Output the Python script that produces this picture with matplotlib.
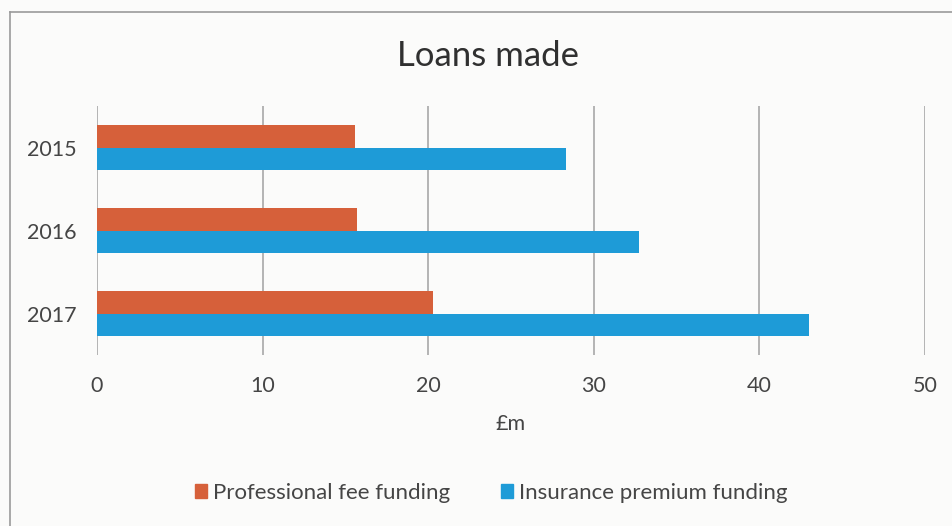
import matplotlib
matplotlib.use("Agg")
import matplotlib.pyplot as plt
from matplotlib.patches import Patch
from matplotlib.lines import Line2D
import numpy as np

years = ["2015", "2016", "2017"]
professional_fee = [15.6, 15.7, 20.3]
insurance_premium = [28.3, 32.7, 43.0]
x_ticks = [0, 10, 20, 30, 40, 50]

ORANGE = "#D6603A"
BLUE = "#1E9BD7"
FONT = ["Lato", "DejaVu Sans"]
plt.rcParams["font.family"] = FONT

W, H = 952, 526
fig = plt.figure(figsize=(W / 100, H / 100), dpi=100)
fig.patch.set_facecolor("#FBFBFA")

# chart frame (partially cropped in scan)
fig.add_artist(Line2D([10 / W, 10 / W], [0, 1 - 12 / H], color="#9A9A9A", lw=1.2, transform=fig.transFigure))
fig.add_artist(Line2D([10 / W, 1], [1 - 12 / H, 1 - 12 / H], color="#9A9A9A", lw=1.2, transform=fig.transFigure))

ax = fig.add_axes([97 / W, 1 - 355 / H, (925 - 97) / W, (355 - 106) / H])
ax.set_facecolor("none")

y = np.arange(len(years))
h = 0.27
ax.barh(y - h / 2, professional_fee, height=h, color=ORANGE, label="Professional fee funding", zorder=3)
ax.barh(y + h / 2, insurance_premium, height=h, color=BLUE, label="Insurance premium funding", zorder=3)

ax.set_xlim(0, 50)
ax.set_ylim(2.5, -0.5)
ax.set_yticks(y)
ax.set_yticklabels(years)
ax.set_xticks(x_ticks)
ax.tick_params(axis="both", length=0, labelsize=15.5, colors="#454545")
ax.tick_params(axis="x", pad=15)
ax.tick_params(axis="y", pad=14.5)
for s in ax.spines.values():
    s.set_visible(False)
ax.grid(axis="x", color="#A8A8A8", lw=1.2, zorder=0)
ax.set_axisbelow(True)

ax.set_xlabel("£m", fontsize=15.5, color="#454545", labelpad=13)

fig.text(0.513, 1 - 56 / H, "Loans made", ha="center", va="center", fontsize=25, color="#303030")

handles = [Patch(color=ORANGE, label="Professional fee funding"),
           Patch(color=BLUE, label="Insurance premium funding")]
fig.legend(handles=handles, loc="center", bbox_to_anchor=(0.516, 1 - 493 / H), ncol=2, frameon=False,
           fontsize=16, handlelength=0.55, handleheight=0.55, handletextpad=0.25, columnspacing=2.3,
           labelcolor="#454545")

fig.savefig("out.png", dpi=100, facecolor=fig.get_facecolor())
